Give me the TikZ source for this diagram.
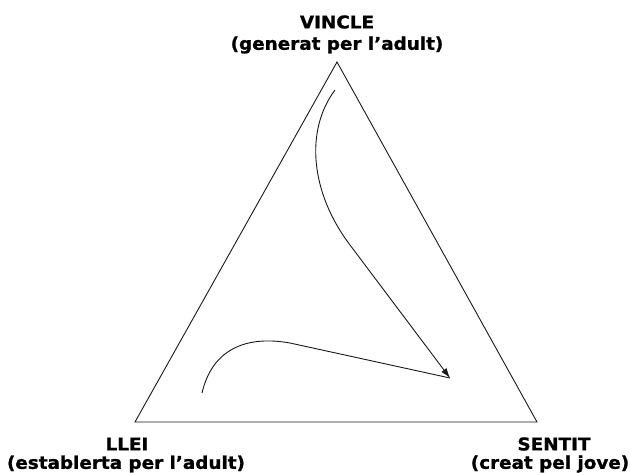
\documentclass[tikz,border=0pt]{standalone}
\usepackage{fontspec}
\setsansfont{DejaVu Sans}[FakeStretch=1.05, BoldFeatures={FakeBold=1.2}]
\usepackage{tikz}
\usetikzlibrary{arrows.meta}

\begin{document}
\begin{tikzpicture}[auto, >={Latex[length=10pt,width=6.5pt]}, x=1pt, y=-1pt]
	\tikzstyle{head} = [draw=none, font=\sffamily\bfseries\fontsize{17.5}{19}\selectfont]
	\tikzstyle{side} = [line width=0.9pt, draw=black!90]
	\useasboundingbox (0,0) rectangle (630,472);

	% vertices of the triangle
	\coordinate (top)   at (337, 62);
	\coordinate (left)  at (135, 422);
	\coordinate (right) at (537, 422);

	\node[head] at (337, 22)  (vincle)  {VINCLE};
	\node[head] at (337, 45)  (vinclex) {(generat per l’adult)};
	\node[head] at (127, 444) (llei)    {LLEI};
	\node[head] at (126, 464) (lleix)   {(establerta per l’adult)};
	\node[head] at (554, 444) (sentit)  {SENTIT};
	\node[head] at (550, 464) (sentitx) {(creat pel jove)};

	\draw[side] (top) -- (left) -- (right) -- cycle;

	% the two paths that meet near SENTIT
	\coordinate (a0)  at (335, 90);
	\coordinate (a1)  at (350, 245);
	\coordinate (b0)  at (202, 393);
	\coordinate (b1)  at (290, 343);
	\coordinate (tip) at (450, 378);

	\draw[side, ->] (a0) .. controls (305, 130) and (310, 192) .. (a1) -- (tip);
	\draw[side] (b0) .. controls (212, 350) and (245, 335) .. (b1) -- (tip);
\end{tikzpicture}
\end{document}
